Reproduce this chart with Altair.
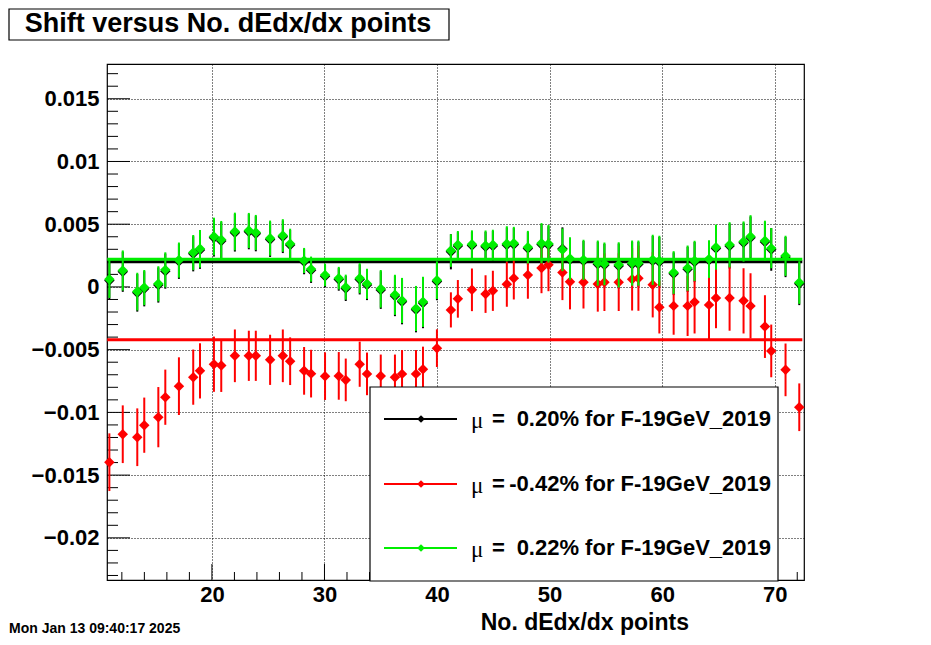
import altair as alt
import pandas as pd

# ---------------- data ----------------
x_vals = [10.89, 12.08, 13.37, 13.99, 15.24, 15.86, 17.07, 18.34, 18.94, 20.18,
          20.83, 22.04, 23.28, 23.90, 25.17, 26.30, 26.95, 28.19, 28.81, 30.05,
          31.27, 31.89, 33.13, 33.78, 35.00, 36.26, 36.89, 38.13, 38.75, 39.99,
          41.23, 41.85, 43.10, 44.31, 44.96, 46.20, 46.82, 48.07, 49.28, 49.90,
          51.14, 51.81, 53.01, 54.28, 54.87, 56.14, 57.33, 57.89, 59.16, 59.75,
          61.02, 62.26, 62.88, 64.16, 64.78, 65.99, 67.23, 67.85, 69.13, 69.69,
          70.96, 72.18]

green_y = [0.00062, 0.00131, -0.00037, -0.00005, 0.00025, 0.00136, 0.00214, 0.00274, 0.00304, 0.00402,
           0.00376, 0.00442, 0.00450, 0.00434, 0.00389, 0.00410, 0.00344, 0.00211, 0.00142, 0.00096,
           0.00070, -0.00002, 0.00070, 0.00025, -0.00015, -0.00063, -0.00108, -0.00172, -0.00119, 0.00054,
           0.00290, 0.00336, 0.00341, 0.00330, 0.00336, 0.00344, 0.00349, 0.00317, 0.00349, 0.00344,
           0.00296, 0.00226, 0.00216, 0.00190, 0.00184, 0.00176, 0.00190, 0.00190, 0.00216, 0.00208,
           0.00115, 0.00150, 0.00208, 0.00222, 0.00317, 0.00336, 0.00362, 0.00402, 0.00368, 0.00309,
           0.00248, 0.00035]
green_err = [0.0015, 0.0016, 0.0015, 0.0014, 0.0014, 0.0014, 0.0014, 0.0014, 0.0015, 0.0015,
             0.0015, 0.0015, 0.0014, 0.0014, 0.0014, 0.0013, 0.0012, 0.0010, 0.0010, 0.0009,
             0.0009, 0.0010, 0.0012, 0.0012, 0.0015, 0.0016, 0.0018, 0.0018, 0.0020, 0.0015,
             0.0013, 0.0011, 0.0011, 0.0012, 0.0012, 0.0014, 0.0013, 0.0013, 0.0016, 0.0015,
             0.0017, 0.0017, 0.0016, 0.0018, 0.0017, 0.0018, 0.0018, 0.0018, 0.0020, 0.0020,
             0.0017, 0.0018, 0.0016, 0.0015, 0.0018, 0.0018, 0.0016, 0.0017, 0.0016, 0.0016,
             0.0016, 0.0017]

black_y = [0.00052, 0.00121, -0.00047, -0.00015, 0.00015, 0.00126, 0.00204, 0.00264, 0.00294, 0.00392,
           0.00366, 0.00432, 0.00440, 0.00424, 0.00379, 0.00400, 0.00334, 0.00201, 0.00132, 0.00086,
           0.00060, -0.00012, 0.00060, 0.00015, -0.00025, -0.00073, -0.00118, -0.00182, -0.00129, 0.00044,
           0.00280, 0.00326, 0.00331, 0.00320, 0.00326, 0.00334, 0.00339, 0.00307, 0.00339, 0.00334,
           0.00305, 0.00216, 0.00206, 0.00180, 0.00174, 0.00166, 0.00180, 0.00180, 0.00206, 0.00198,
           0.00105, 0.00140, 0.00198, 0.00212, 0.00307, 0.00326, 0.00352, 0.00392, 0.00358, 0.00299,
           0.00238, 0.00025]
black_err = [0.0015, 0.0016, 0.0015, 0.0014, 0.0014, 0.0014, 0.0014, 0.0014, 0.0015, 0.0015,
             0.0015, 0.0015, 0.0014, 0.0014, 0.0014, 0.0013, 0.0012, 0.0010, 0.0010, 0.0009,
             0.0009, 0.0010, 0.0012, 0.0012, 0.0015, 0.0016, 0.0018, 0.0018, 0.0020, 0.0015,
             0.0014, 0.0011, 0.0011, 0.0012, 0.0012, 0.0014, 0.0013, 0.0013, 0.0016, 0.0015,
             0.0017, 0.0017, 0.0016, 0.0018, 0.0017, 0.0018, 0.0018, 0.0018, 0.0020, 0.0020,
             0.0017, 0.0018, 0.0016, 0.0015, 0.0018, 0.0018, 0.0016, 0.0017, 0.0016, 0.0017,
             0.0016, 0.0017]

red_y = [-0.01397, -0.01174, -0.01198, -0.01102, -0.01038, -0.00879, -0.00791, -0.00719, -0.00669, -0.00616,
         -0.00627, -0.00549, -0.00549, -0.00549, -0.00581, -0.00549, -0.00592, -0.00669, -0.00691, -0.00711,
         -0.00709, -0.00741, -0.00616, -0.00693, -0.00709, -0.00719, -0.00693, -0.00693, -0.00656, -0.00488,
         -0.00183, -0.00095, -0.00023, -0.00057, -0.00031, 0.00022, 0.00070, 0.00096, 0.00150, 0.00176,
         0.00115, 0.00041, 0.00038, 0.00023, 0.00038, 0.00038, 0.00062, 0.00070, 0.00017, -0.00161,
         -0.00151, -0.00151, -0.00121, -0.00143, -0.00089, -0.00089, -0.00111, -0.00151, -0.00316, -0.00510,
         -0.00661, -0.00959]
red_err = [0.0023, 0.0023, 0.0023, 0.0022, 0.0024, 0.0022, 0.0023, 0.0022, 0.0022, 0.0022,
           0.0021, 0.0021, 0.0020, 0.0020, 0.0020, 0.0021, 0.0019, 0.0019, 0.0019, 0.0019,
           0.0019, 0.0017, 0.0018, 0.0017, 0.0017, 0.0018, 0.0019, 0.0019, 0.0018, 0.0015,
           0.0014, 0.0015, 0.0017, 0.0015, 0.0016, 0.0018, 0.0017, 0.0019, 0.0020, 0.0021,
           0.0022, 0.0022, 0.0021, 0.0022, 0.0023, 0.0023, 0.0025, 0.0026, 0.0026, 0.0021,
           0.0023, 0.0024, 0.0025, 0.0028, 0.0024, 0.0026, 0.0026, 0.0026, 0.0025, 0.0021,
           0.0021, 0.0019]

series_names = ["black", "red", "green"]
series_colors = ["#000000", "#ff0000", "#00ee00"]
fit_means = [0.0020, -0.0042, 0.0022]
fit_x_range = [10.70, 72.45]
legend_values = ["0.20% for F-19GeV_2019", "-0.42% for F-19GeV_2019", "0.22% for F-19GeV_2019"]

title_text = "Shift versus No. dEdx/dx points"
x_title = "No. dEdx/dx points"
date_text = "Mon Jan 13 09:40:17 2025"

x_domain = [10.68, 72.6]
y_domain = [-0.02336, 0.01777]
x_major = [20, 30, 40, 50, 60, 70]
x_minor = [12, 14, 16, 18, 22, 24, 26, 28, 32, 34, 36, 38, 42, 44, 46, 48,
           52, 54, 56, 58, 62, 64, 66, 68, 72]
y_major = [-0.02, -0.015, -0.01, -0.005, 0, 0.005, 0.01, 0.015]
y_minor = [round(i * 0.001, 3) for i in range(-23, 18) if i % 5 != 0]

# ---------------- layout ----------------
W, H = 697, 516
FONT = "Liberation Sans"

x_scale = alt.Scale(domain=x_domain, nice=False, zero=False)
y_scale = alt.Scale(domain=y_domain, nice=False, zero=False)
x_axis = alt.Axis(values=x_major, grid=True, gridDash=[1, 2], gridColor="black",
                  gridOpacity=1, gridWidth=1, ticks=False, domain=False,
                  labelFont=FONT, labelFontSize=22, labelFontWeight="bold",
                  labelColor="black", labelPadding=4, title=None, format="d")
y_axis = alt.Axis(values=y_major, grid=True, gridDash=[1, 2], gridColor="black",
                  gridOpacity=1, gridWidth=1, ticks=False, domain=False,
                  labelFont=FONT, labelFontSize=22, labelFontWeight="bold",
                  labelColor="black", labelPadding=8, title=None, format="~g")


def X(field):
    return alt.X(field, scale=x_scale, axis=x_axis, title=None)


def Y(field):
    return alt.Y(field, scale=y_scale, axis=y_axis, title=None)


one = pd.DataFrame({"k": [0]})
layers = []

# axis + grid carrier
grid_df = pd.DataFrame({"x": [x_domain[0]], "y": [y_domain[0]]})
layers.append(alt.Chart(grid_df).mark_point(opacity=0).encode(x=X("x:Q"), y=Y("y:Q")))


# inward ticks
def xticks(vals, length):
    return alt.Chart(pd.DataFrame({"t": vals})).mark_rule(color="black", strokeWidth=1).encode(
        x=X("t:Q"), y=alt.value(H), y2=alt.value(H - length))


def yticks(vals, length):
    return alt.Chart(pd.DataFrame({"t": vals})).mark_rule(color="black", strokeWidth=1).encode(
        y=Y("t:Q"), x=alt.value(0), x2=alt.value(length))


layers += [xticks(x_major, 16), xticks(x_minor, 8), yticks(y_major, 23), yticks(y_minor, 11)]

series_data = {
    "black": (black_y, black_err),
    "red": (red_y, red_err),
    "green": (green_y, green_err),
}

for name, color, mean in zip(series_names, series_colors, fit_means):
    ys, errs = series_data[name]
    df = pd.DataFrame({"x": x_vals, "y": ys, "err": errs})
    base = alt.Chart(df).transform_calculate(
        lo="datum.y - datum.err", hi="datum.y + datum.err")
    bars = base.mark_rule(color=color, strokeWidth=2).encode(
        x=X("x:Q"), y=Y("lo:Q"), y2="hi:Q")
    pts = base.mark_point(shape="diamond", filled=True, size=110, opacity=1,
                          color=color, strokeWidth=0).encode(x=X("x:Q"), y=Y("y:Q"))
    fit_df = pd.DataFrame({"x0": [fit_x_range[0]], "x1": [fit_x_range[1]], "m": [mean]})
    fit = alt.Chart(fit_df).mark_rule(color=color, strokeWidth=3).encode(
        x=X("x0:Q"), x2="x1:Q", y=Y("m:Q"))
    layers += [bars, pts, fit]

# legend box
layers.append(
    alt.Chart(one).mark_rect(fill="white", stroke="black", strokeWidth=1.2).encode(
        x=alt.value(263), x2=alt.value(671), y=alt.value(323), y2=alt.value(517)))

row_y = [355, 420, 484]
for ry, color, val in zip(row_y, series_colors, legend_values):
    layers.append(alt.Chart(one).mark_rule(color=color, strokeWidth=2).encode(
        x=alt.value(277), x2=alt.value(350), y=alt.value(ry)))
    layers.append(alt.Chart(one).mark_point(shape="diamond", filled=True, size=60,
                                            opacity=1, color=color).encode(
        x=alt.value(314), y=alt.value(ry)))
    layers.append(alt.Chart(pd.DataFrame({"t": ["μ"]})).mark_text(
        font="Liberation Serif", fontSize=23, align="left", baseline="middle",
        color="black").encode(x=alt.value(364), y=alt.value(ry + 2), text="t:N"))
    layers.append(alt.Chart(pd.DataFrame({"t": ["="]})).mark_text(
        font=FONT, fontSize=22, fontWeight="bold", align="left", baseline="middle",
        color="black").encode(x=alt.value(385), y=alt.value(ry), text="t:N"))
    layers.append(alt.Chart(pd.DataFrame({"t": [val]})).mark_text(
        font=FONT, fontSize=22, fontWeight="bold", align="right", baseline="middle",
        color="black").encode(x=alt.value(664), y=alt.value(ry), text="t:N"))

# title box
layers.append(
    alt.Chart(one).mark_rect(fill="white", stroke="black", strokeWidth=1.2).encode(
        x=alt.value(-98), x2=alt.value(342), y=alt.value(-55), y2=alt.value(-24)))
layers.append(alt.Chart(pd.DataFrame({"t": [title_text]})).mark_text(
    font=FONT, fontSize=27, fontWeight="bold", align="center", baseline="middle",
    color="black").encode(x=alt.value(121), y=alt.value(-40), text="t:N"))

# x title
layers.append(alt.Chart(pd.DataFrame({"t": [x_title]})).mark_text(
    font=FONT, fontSize=23, fontWeight="bold", align="right", baseline="alphabetic",
    color="black").encode(x=alt.value(582), y=alt.value(566), text="t:N"))

# date
layers.append(alt.Chart(pd.DataFrame({"t": [date_text]})).mark_text(
    font=FONT, fontSize=14, fontWeight="bold", align="left", baseline="alphabetic",
    color="black").encode(x=alt.value(-98), y=alt.value(569), text="t:N"))

chart = alt.layer(*layers).properties(
    width=W, height=H,
    autosize=alt.AutoSizeParams(type="none"),
    padding={"left": 99, "top": 56, "right": 110, "bottom": 57},
    background="white",
).configure_view(stroke="black", strokeWidth=1.2)

chart.save("out.html", embed_options={"renderer": "svg", "actions": False})
